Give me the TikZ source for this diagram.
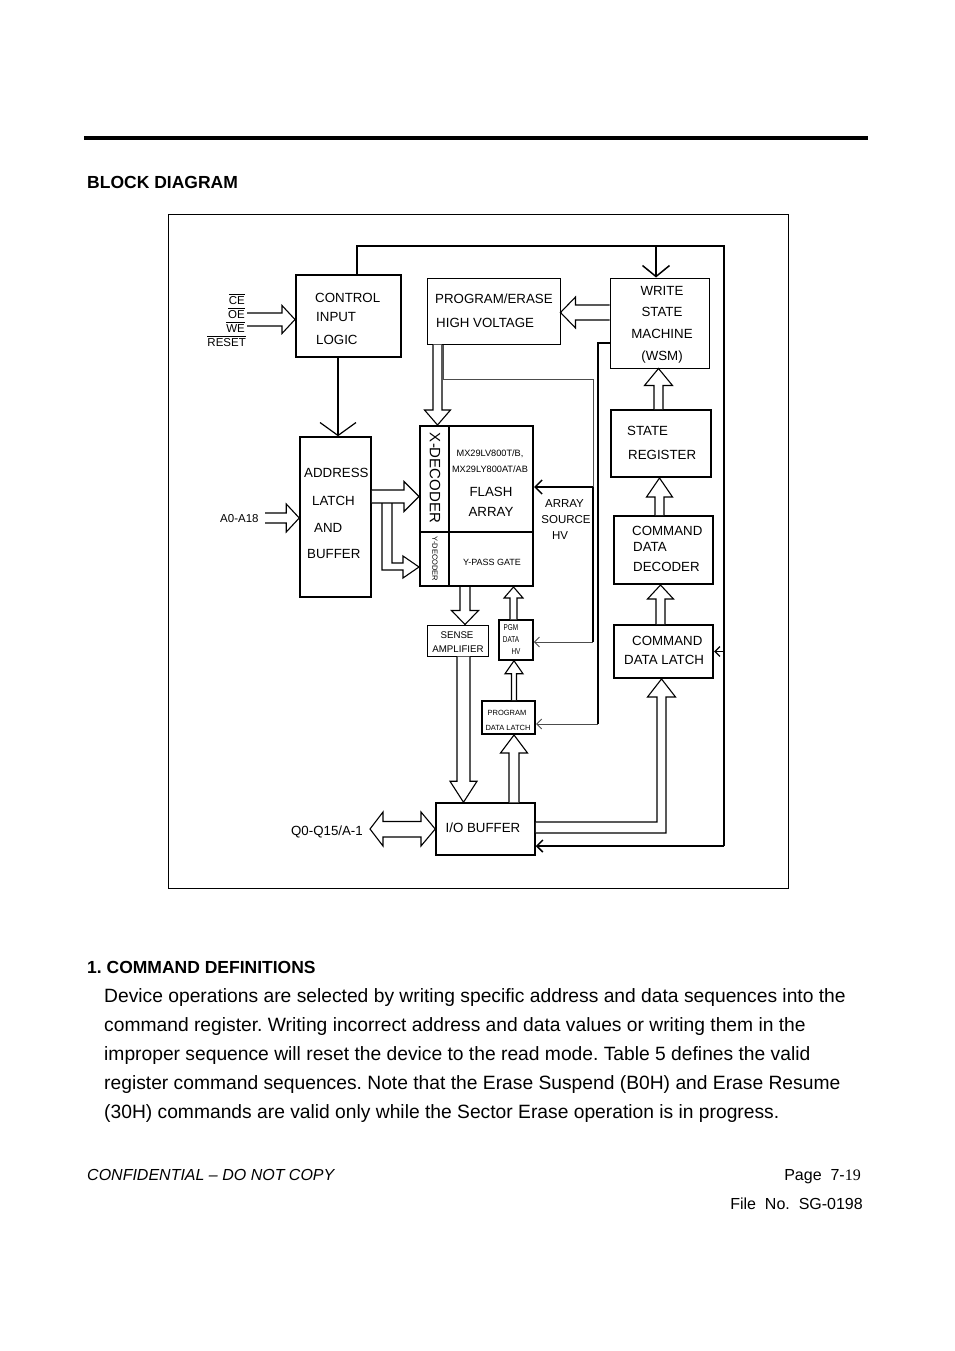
\documentclass[tikz,border=0pt]{standalone}
\usepackage{fontspec}
\setmainfont{Liberation Sans}
\newfontfamily\serifff{Liberation Serif}
\usetikzlibrary{arrows.meta,calc}
\frenchspacing
\newcommand\fs[1]{\fontsize{#1}{#1}\selectfont}
\newcommand\ovl[1]{\leavevmode\vbox{\hrule height 0.6pt \kern1.2pt\hbox{#1}}}
% vertical hollow arrow: start, target, half shaft, half head, head length
\newcommand\varr[5]{\draw[hol] let \p1=(#1), \p2=(#1 |- #2), \n1={sign(\y2-\y1)*(#5)} in
  (\x1-#3,\y1) -- (\x1-#3,{\y2-(\n1)}) -- (\x1-#4,{\y2-(\n1)}) -- (\x1,\y2) -- (\x1+#4,{\y2-(\n1)}) -- (\x1+#3,{\y2-(\n1)}) -- (\x1+#3,\y1);}
% horizontal hollow arrow
\newcommand\harr[5]{\draw[hol] let \p1=(#1), \p2=(#1 -| #2), \n1={sign(\x2-\x1)*(#5)} in
  (\x1,\y1+#3) -- ({\x2-(\n1)},\y1+#3) -- ({\x2-(\n1)},\y1+#4) -- (\x2,\y1) -- ({\x2-(\n1)},\y1-#4) -- ({\x2-(\n1)},\y1-#3) -- (\x1,\y1-#3);}
\begin{document}
\begin{tikzpicture}[x=1pt,y=-1pt,
  bxk/.style={draw, line width=2pt, inner sep=0},
  bxm/.style={draw, line width=1.5pt, inner sep=0},
  bxt/.style={draw, line width=1pt, inner sep=0},
  hol/.style={draw, line width=1.1pt, fill=white, line join=miter},
  bus/.style={draw, line width=1.5pt},
  thn/.style={draw, line width=1pt, black!70},
  t/.style={inner sep=0, anchor=base west, font=\fs{13.3}},
  tc/.style={inner sep=0, anchor=base, font=\fs{13.3}},
]
\useasboundingbox (0,0) rectangle (954,1351);
\fill[white] (0,0) rectangle (954,1351);

% header
\draw[line width=4pt] (84,138) -- (868,138);
\node[inner sep=0, anchor=base west, font=\fs{17.5}\bfseries] (title) at (87,189) {BLOCK DIAGRAM};

% frame
\node[draw, line width=1pt, minimum width=620pt, minimum height=674pt, inner sep=0] (frame) at (478,551) {};

% boxes
\node[bxk, minimum width=105pt, minimum height=82pt] (ctl) at (348.5,316) {};
\node[bxt, minimum width=133pt, minimum height=66pt] (pe) at (493.5,311) {};
\node[bxt, minimum width=99pt, minimum height=90pt] (wsm) at (659.5,323) {};
\node[bxm, minimum width=71pt, minimum height=160pt] (addr) at (335.5,517) {};
\node[bxk, minimum width=29pt, minimum height=106pt] (xdec) at (434.5,479) {};
\node[bxk, minimum width=29pt, minimum height=54pt] (ydec) at (434.5,559) {};
\node[bxk, minimum width=84pt, minimum height=106pt] (farr) at (491,479) {};
\node[bxk, minimum width=84pt, minimum height=54pt] (ypass) at (491,559) {};
\node[bxk, minimum width=100pt, minimum height=67pt] (sr) at (661,443.5) {};
\node[bxk, minimum width=99pt, minimum height=68pt] (cdd) at (663.5,550) {};
\node[bxk, minimum width=99pt, minimum height=53pt] (cdl) at (663.5,651.5) {};
\node[bxt, minimum width=61pt, minimum height=31pt] (sa) at (457.5,640.5) {};
\node[bxm, minimum width=34pt, minimum height=40pt] (pgm) at (516,640) {};
\node[bxk, minimum width=53pt, minimum height=33pt] (pdl) at (508.5,717.5) {};
\node[bxm, minimum width=99pt, minimum height=52pt] (io) at (485.5,829) {};

% box texts
\node[t] (ctl1) at (315,302.8) {CONTROL};
\node[t] (ctl2) at (316,321.8) {INPUT};
\node[t] (ctl3) at (316,344.8) {LOGIC};
\node[t] (pe1) at (435,303.8) {PROGRAM/ERASE};
\node[t] (pe2) at (436,327.8) {HIGH VOLTAGE};
\node[tc] (wsm1) at (662,295.8) {WRITE};
\node[tc] (wsm2) at (662,316.8) {STATE};
\node[tc] (wsm3) at (662,338.8) {MACHINE};
\node[tc] (wsm4) at (662,360.8) {(WSM)};
\node[t] (ad1) at (304,477.8) {ADDRESS};
\node[t] (ad2) at (312,505.8) {LATCH};
\node[t] (ad3) at (314,532.8) {AND};
\node[t] (ad4) at (307,558.8) {BUFFER};
\node[inner sep=0, rotate=-90, font=\fs{15}] (xd) at (435,478) {X-DECODER};
\node[inner sep=0, rotate=-90, font=\fs{7.5}] (yd) at (435,559) {Y-DECODER};
\node[tc, font=\fs{9.2}] (fa1) at (490,456.3) {MX29LV800T/B,};
\node[tc, font=\fs{9.2}] (fa2) at (490,472.3) {MX29LY800AT/AB};
\node[tc] (fa3) at (491,496.8) {FLASH};
\node[tc] (fa4) at (491,516.8) {ARRAY};
\node[tc, font=\fs{9}] (yp) at (492,565.2) {Y-PASS GATE};
\node[tc, font=\fs{11.5}] (as1) at (564.5,507.1) {ARRAY};
\node[tc, font=\fs{11.5}] (as2) at (566,523.1) {SOURCE};
\node[tc, font=\fs{11.5}] (as3) at (560,539.1) {HV};
\node[t] (sr1) at (627,435.8) {STATE};
\node[t] (sr2) at (628,459.8) {REGISTER};
\node[t] (cd1) at (632,535.8) {COMMAND};
\node[t] (cd2) at (633,551.8) {DATA};
\node[t] (cd3) at (633,571.8) {DECODER};
\node[t] (cl1) at (632,645.8) {COMMAND};
\node[t] (cl2) at (624,664.8) {DATA LATCH};
\node[tc, font=\fs{9.7}] (sa1) at (457,638.5) {SENSE};
\node[tc, font=\fs{9.7}] (sa2) at (458,652.5) {AMPLIFIER};
\node[tc, font=\fs{8.5}, xscale=0.75] (pg1) at (511,630) {PGM};
\node[tc, font=\fs{8.5}, xscale=0.75] (pg2) at (511,642) {DATA};
\node[tc, font=\fs{8.5}, xscale=0.75] (pg3) at (516,654) {HV};
\node[tc, font=\fs{7.5}] (pd1) at (507,715.7) {PROGRAM};
\node[tc, font=\fs{7.5}] (pd2) at (508,730.7) {DATA LATCH};
\node[tc] (io1) at (483,832.8) {I/O BUFFER};

% outside labels
\node[inner sep=0, anchor=base east, font=\fs{11.5}] (sce) at (245,304.1) {\ovl{CE}};
\node[inner sep=0, anchor=base east, font=\fs{11.5}] (soe) at (245,318.1) {\ovl{OE}};
\node[inner sep=0, anchor=base east, font=\fs{11.5}] (swe) at (245,332.1) {\ovl{WE}};
\node[inner sep=0, anchor=base east, font=\fs{11.5}] (srs) at (246,346.1) {\ovl{RESET}};
\node[inner sep=0, anchor=base west, font=\fs{11.5}] (a0l) at (220,522.1) {A0-A18};
\node[inner sep=0, anchor=base east, font=\fs{13.3}] (ql) at (363,835.8) {Q0-Q15/A-1};

% thin connectors
\coordinate (b0) at ($(ctl.north)+(8.5,0)$);
\coordinate (btl) at (357,246);
\coordinate (btr) at (724,246);
\coordinate (bbr) at (724,846);
\coordinate (bw) at (656,246);
\draw[bus] (b0) -- (btl) -- (btr) -- (bbr);
\draw[bus, -{Straight Barb[length=11pt,width=27pt]}] (bw) -- (bw |- wsm.north);
\draw[line width=1.3pt, -{Straight Barb[length=5pt,width=10pt]}] (bbr |- cdl.east) -- (cdl.east);
\draw[bus, -{Straight Barb[length=6pt,width=12pt]}] (bbr) -- (bbr -| io.east);

\coordinate (c1) at ($(ctl.south)+(-10.5,0)$);
\draw[line width=1.2pt, -{Straight Barb[length=13pt,width=36pt]}] (c1) -- (c1 |- addr.north);

\coordinate (p0) at ($(pe.south)+(-50.5,0)$);
\coordinate (p1) at (443,379);
\coordinate (p2) at (593,379);
\coordinate (p3) at (593,487);
\coordinate (p4) at (593,642);
\draw[thn] (p0) -- (p1) -- (p2) -- (p3);
\draw[line width=1.2pt] (p3) -- (p4);
\draw[line width=1.5pt, -{Straight Barb[length=7pt,width=14pt]}] (p3) -- (p3 -| farr.east);
\draw[thn, -{Straight Barb[length=5pt,width=10pt]}] (p4) -- (p4 -| pgm.east);

\coordinate (w0) at ($(wsm.west)+(0,20)$);
\coordinate (w1) at (598,343);
\coordinate (w2) at (598,724);
\draw[line width=1.2pt] (w0) -- (w1) -- (w2);
\draw[thn, -{Straight Barb[length=5pt,width=10pt]}] (w2) -- (w2 -| pdl.east);

% hollow arrows
\coordinate (sig) at (247,319.5);
\harr{sig}{ctl.west}{6.5}{14}{13}
\coordinate (a0) at (265,518);
\harr{a0}{addr.west}{5}{14}{13}
\coordinate (h3) at ($(addr.east)+(0,-20.5)$);
\harr{h3}{xdec.west}{6.5}{15}{15}
\draw[hol, fill=none] (382,503) -- (382,570) -- (403,570) -- (403,578) -- (ydec.west |- 0,567) -- (403,556) -- (403,563) -- (392,563) -- (392,503);
\coordinate (h6) at ($(wsm.west)+(0,-10.5)$);
\harr{h6}{pe.east}{7.5}{15.5}{15}
\coordinate (v5) at ($(pe.south)+(-56,0)$);
\varr{v5}{xdec.north}{4.5}{13}{15}
\coordinate (v7) at ($(sr.north)+(-2.5,0)$);
\varr{v7}{wsm.south}{4.5}{14}{17}
\coordinate (v8) at ($(cdd.north)+(-4,0)$);
\varr{v8}{sr.south}{4.5}{13}{19}
\coordinate (v9) at ($(cdl.north)+(-3,0)$);
\varr{v9}{cdd.south}{4.5}{13}{14}
\coordinate (v11) at ($(ypass.south)+(-26,0)$);
\varr{v11}{sa.north}{5}{13.5}{14}
\coordinate (v12) at ($(pgm.north)+(-2.5,0)$);
\varr{v12}{ypass.south}{3.5}{9.5}{11}
\coordinate (v13) at ($(pdl.north)+(5.5,0)$);
\varr{v13}{pgm.south}{2.5}{9}{13}
\coordinate (v14) at ($(sa.south)+(6,0)$);
\varr{v14}{io.north}{6.5}{13.5}{21}
\coordinate (v15) at ($(io.north)+(28.5,0)$);
\varr{v15}{pdl.south}{5}{13.5}{18}
\coordinate (tipc) at ($(cdl.south)+(-2,0)$);
\draw[hol] ($(io.east)+(0,-7)$) -- (657,822) -- (657,697) -- (647.5,697) -- (tipc) -- (675.5,697) -- (666,697) -- (666,833) -- ($(io.east)+(0,4)$);
\coordinate (q) at (370,829);
\draw[hol] (q) -- (383,812) -- (383,821.5) -- (421,821.5) -- (421,812) -- (io.west) -- (421,846) -- (421,837) -- (383,837) -- (383,846) -- cycle;

% text below
\node[inner sep=0, anchor=base west, font=\fs{17.5}\bfseries] (sec) at (87,973) {1. COMMAND DEFINITIONS};
\node[inner sep=0, anchor=base west, font=\fs{19.25}] (l1) at (104,1002) {Device operations are selected by writing specific address and data sequences into the};
\node[inner sep=0, anchor=base west, font=\fs{19.25}] (l2) at (104,1031) {command register. Writing incorrect address and data values or writing them in the};
\node[inner sep=0, anchor=base west, font=\fs{19.25}] (l3) at (104,1060) {improper sequence will reset the device to the read mode. Table 5 defines the valid};
\node[inner sep=0, anchor=base west, font=\fs{19.25}] (l4) at (104,1089) {register command sequences. Note that the Erase Suspend (B0H) and Erase Resume};
\node[inner sep=0, anchor=base west, font=\fs{19.25}] (l5) at (104,1118) {(30H) commands are valid only while the Sector Erase operation is in progress.};

\node[inner sep=0, anchor=base west, font=\fs{16}\itshape] (conf) at (87,1180) {CONFIDENTIAL – DO NOT COPY};
\node[inner sep=0, anchor=base east, font=\fs{16}] (page) at (861,1180) {Page\ \ 7-{\serifff 19}};
\node[inner sep=0, anchor=base east, font=\fs{16}] (file) at (863,1209) {File\ \ No.\ \ SG-0198};
\end{tikzpicture}
\end{document}
